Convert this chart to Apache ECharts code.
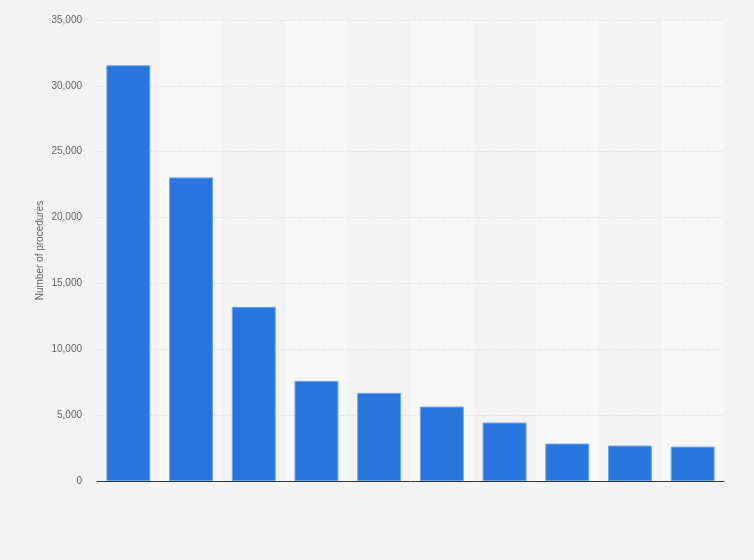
<!DOCTYPE html>
<html>
<head>
<meta charset="utf-8">
<script src="https://cdn.jsdelivr.net/npm/echarts@6/dist/echarts.min.js"></script>
<style>
html,body{margin:0;padding:0;background:#f3f3f3;}
#c{width:754px;height:560px;}
</style>
</head>
<body>
<div id="c"></div>
<script>
var categories = ['1','2','3','4','5','6','7','8','9','10'];
var values = [31560, 23050, 13220, 7600, 6690, 5650, 4440, 2840, 2690, 2610];
var yTicks = [0, 5000, 10000, 15000, 20000, 25000, 30000, 35000];

var chart = echarts.init(document.getElementById('c'));
chart.setOption({
  backgroundColor: '#f3f3f3',
  animation: false,
  grid: {left: 97, right: 30, top: 20, bottom: 79},
  xAxis: {
    type: 'category',
    data: categories,
    z: 0,
    axisLine: {show: true, lineStyle: {color: '#333', width: 1}},
    axisTick: {show: false},
    axisLabel: {show: false},
    splitArea: {show: true, areaStyle: {color: ['rgba(0,0,0,0)', '#f8f8f8']}}
  },
  yAxis: {
    type: 'value',
    z: 1,
    min: yTicks[0],
    max: yTicks[yTicks.length - 1],
    interval: 5000,
    name: 'Number of procedures',
    nameLocation: 'middle',
    nameGap: 52,
    nameMoveOverlap: false,
    nameTextStyle: {color: '#666', fontSize: 10, fontFamily: 'Liberation Sans, Arial, sans-serif'},
    axisLine: {show: false},
    axisTick: {show: false},
    axisLabel: {
      color: '#666', fontSize: 10, margin: 15,
      fontFamily: 'Liberation Sans, Arial, sans-serif',
      formatter: function (v) { return v.toLocaleString('en-US'); }
    },
    splitLine: {showMinLine: false, lineStyle: {color: '#d6d6d6', type: [1, 2], width: 1}}
  },
  series: [{
    type: 'bar',
    z: 3,
    data: values,
    barCategoryGap: '30%',
    itemStyle: {color: '#2876dd', borderColor: '#6fa3ea', borderWidth: 1}
  }]
});
</script>
</body>
</html>
